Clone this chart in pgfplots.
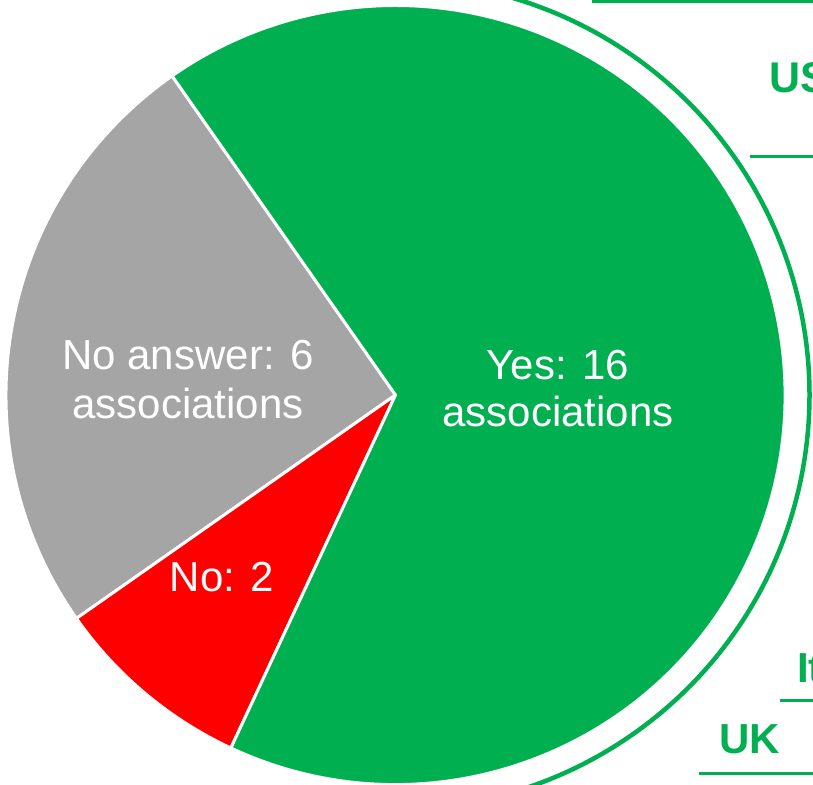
\documentclass[border=0pt]{standalone}
\usepackage{pgfplots}
\pgfplotsset{compat=1.18}
\usepackage{pgfplotstable}
\usepackage{fontspec}
\setmainfont{Liberation Sans}
\definecolor{pgreen}{HTML}{00B050}
\definecolor{pred}{HTML}{FF0000}
\definecolor{pgrey}{HTML}{A5A5A5}

\pgfplotstableread{
label value
NoAnswer 6
No 2
Yes 16
}\piedata

\begin{document}
\begin{tikzpicture}
\pgfplotstablegetelem{0}{value}\of\piedata \edef\vNA{\pgfplotsretval}
\pgfplotstablegetelem{1}{value}\of\piedata \edef\vNo{\pgfplotsretval}
\pgfplotstablegetelem{2}{value}\of\piedata \edef\vYes{\pgfplotsretval}
\pgfmathsetmacro\tot{\vNA+\vNo+\vYes}
\pgfmathsetmacro\aA{125}
\pgfmathsetmacro\aB{\aA+360*\vNA/\tot}
\pgfmathsetmacro\aC{\aB+360*\vNo/\tot}
\pgfmathsetmacro\aD{\aC+360*\vYes/\tot}
\begin{axis}[width=813pt,height=784pt,scale only axis,
  xmin=0,xmax=813,ymin=0,ymax=784,hide axis,clip=false]
\addplot[draw=none] coordinates {(0,0) (813,784)};
\fill[pgrey,draw=white,line width=3pt] (axis cs:395.5,389) -- ++(\aA:389.5pt) arc[start angle=\aA,end angle=\aB,radius=389.5pt] -- cycle;
\fill[pred,draw=white,line width=3pt] (axis cs:395.5,389) -- ++(\aB:389.5pt) arc[start angle=\aB,end angle=\aC,radius=389.5pt] -- cycle;
\fill[pgreen,draw=white,line width=3pt] (axis cs:395.5,389) -- ++(\aC:389.5pt) arc[start angle=\aC,end angle=\aD,radius=389.5pt] -- cycle;
\draw[pgreen,line width=4.5pt] (axis cs:395.5,389) ++(-95:414pt) arc[start angle=-95,end angle=95,radius=414pt];
\draw[pgreen,line width=3pt] (axis cs:592,782.5) -- (axis cs:830,782.5);
\draw[pgreen,line width=3pt] (axis cs:750,627) -- (axis cs:830,627);
\draw[pgreen,line width=3pt] (axis cs:780,84) -- (axis cs:830,84);
\draw[pgreen,line width=3pt] (axis cs:699,11) -- (axis cs:830,11);
\node[white,align=center,font=\fontsize{42}{47}\selectfont] at (axis cs:558,395.5) {Yes: 16\\associations};
\node[white,align=center,font=\fontsize{42}{49}\selectfont] at (axis cs:188,404.5) {No answer: 6\\associations};
\node[white,align=center,font=\fontsize{42}{47}\selectfont] at (axis cs:222,207) {No: 2};
\node[pgreen,anchor=base west,inner sep=0pt,font=\fontsize{43}{47}\selectfont\bfseries] at (axis cs:769,691) {USA};
\node[pgreen,anchor=base west,inner sep=0pt,font=\fontsize{42}{47}\selectfont\bfseries] at (axis cs:797,102) {Italy};
\node[pgreen,anchor=base west,inner sep=0pt,font=\fontsize{42}{47}\selectfont\bfseries] at (axis cs:719,31) {UK};
\end{axis}
\pgfresetboundingbox
\path (current axis.south west) rectangle (current axis.north east);
\end{tikzpicture}
\end{document}
